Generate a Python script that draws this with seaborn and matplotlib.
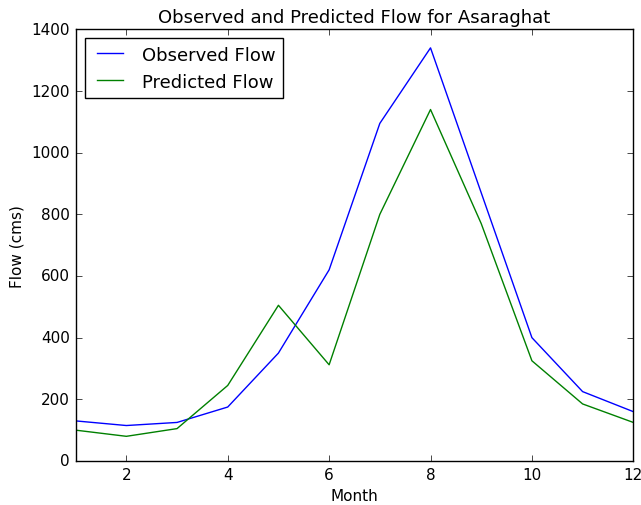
import matplotlib
matplotlib.use("Agg")
import matplotlib.pyplot as plt
import pandas as pd
import seaborn as sns

months = list(range(1, 13))
observed_flow = [130, 115, 125, 175, 350, 620, 1095, 1340, 870, 400, 225, 160]
predicted_flow = [100, 80, 105, 245, 505, 312, 800, 1140, 770, 325, 185, 125]

plt.style.use("classic")
plt.rcParams["figure.facecolor"] = "white"
plt.rcParams["savefig.facecolor"] = "white"
plt.rcParams["font.family"] = ["DejaVu Sans"]

df = pd.DataFrame({
    "Month": months * 2,
    "Flow": observed_flow + predicted_flow,
    "Series": ["Observed Flow"] * 12 + ["Predicted Flow"] * 12,
})

fig, ax = plt.subplots(figsize=(6.41, 5.06), dpi=100)
sns.lineplot(data=df, x="Month", y="Flow", hue="Series",
             palette={"Observed Flow": "b", "Predicted Flow": "g"},
             linewidth=1.0, ax=ax)
ax.set_xlim(1, 12)
ax.set_ylim(0, 1400)
ax.set_xticks([2, 4, 6, 8, 10, 12])
ax.set_xlabel("Month", fontsize=11)
ax.set_ylabel("Flow (cms)", fontsize=11)
ax.set_title("Observed and Predicted Flow for Asaraghat", fontsize=13)
ax.tick_params(labelsize=11)
ax.legend(loc="upper left", fontsize=13, title=None)
fig.subplots_adjust(left=0.118, right=0.988, top=0.94, bottom=0.087)
fig.savefig("out.png", dpi=100)
